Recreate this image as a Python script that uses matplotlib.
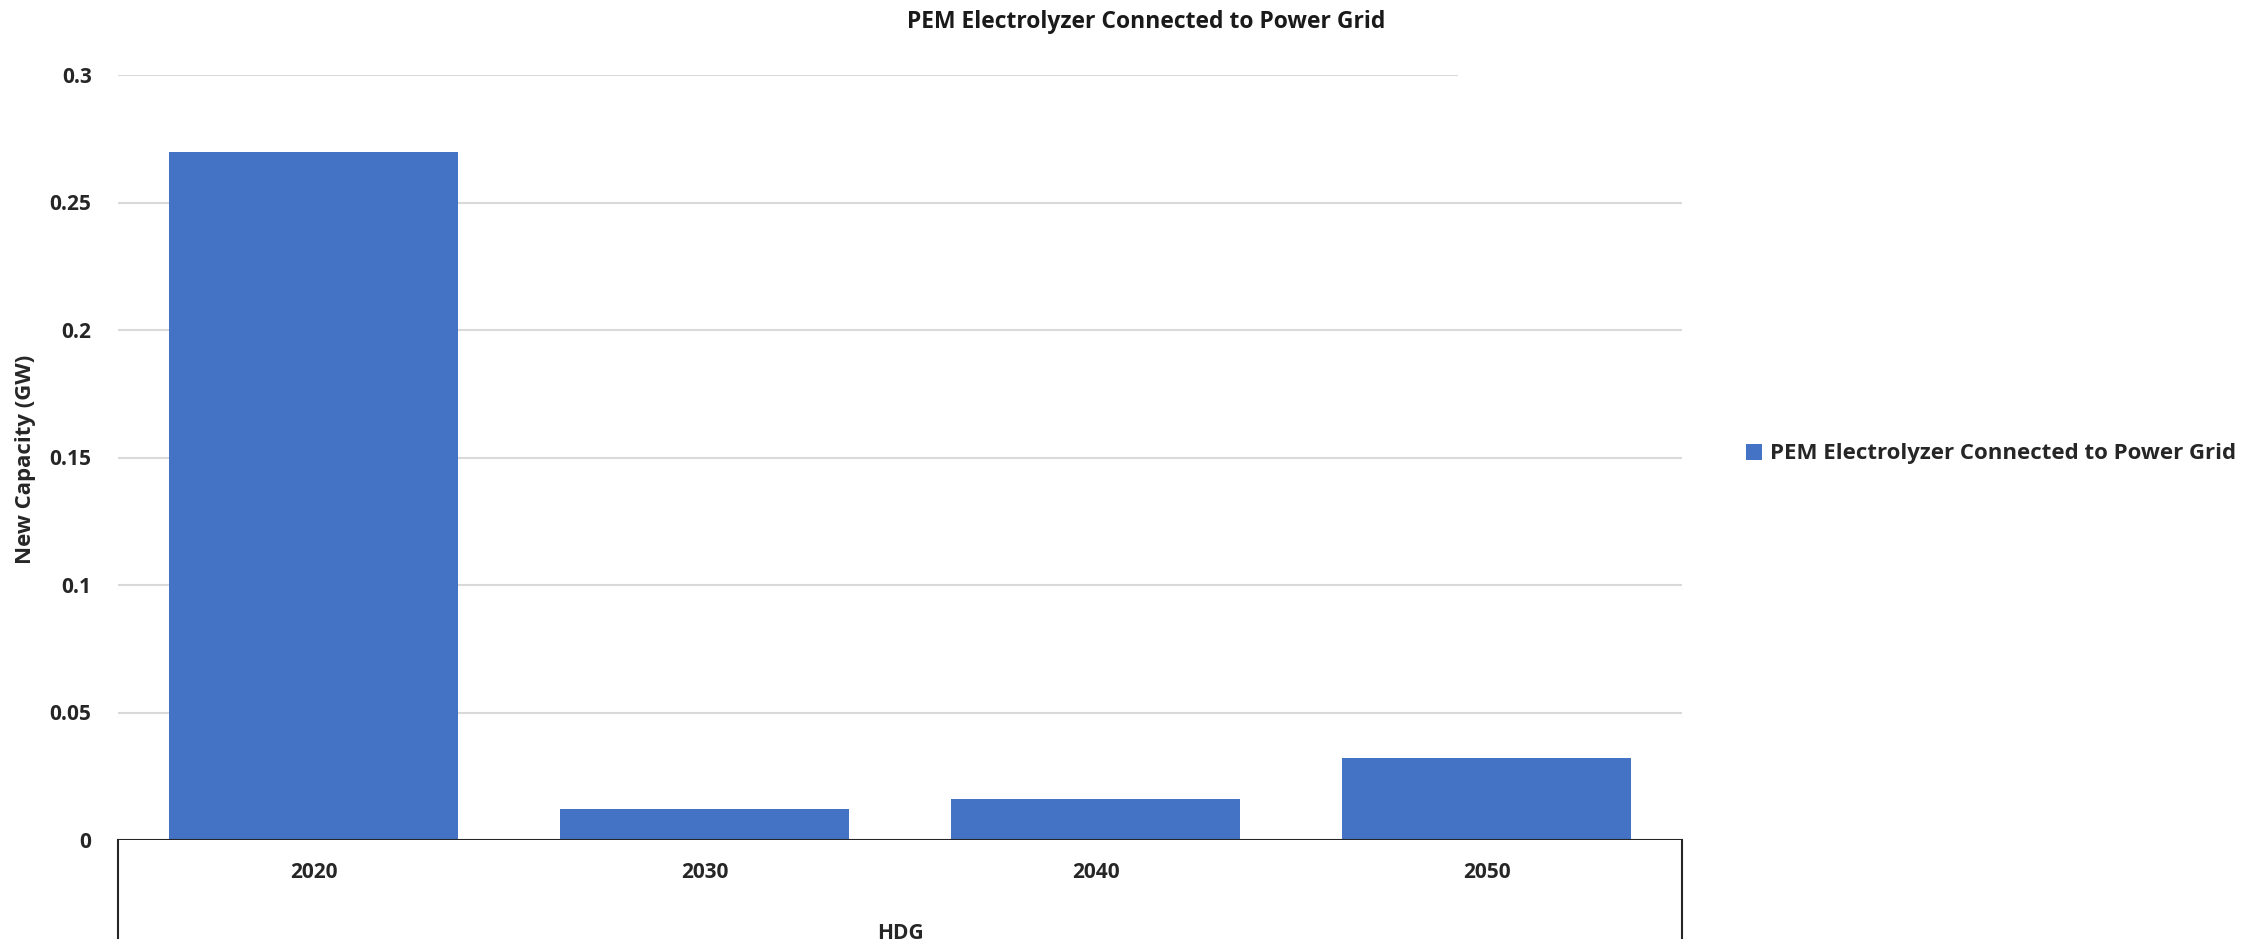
import matplotlib
matplotlib.use("Agg")
import matplotlib.pyplot as plt
from matplotlib.lines import Line2D
import numpy as np

categories = ["2020", "2030", "2040", "2050"]
values = [0.270, 0.012, 0.016, 0.032]
series_name = "PEM Electrolyzer Connected to Power Grid"
title = "PEM Electrolyzer Connected to Power Grid"
y_ticks = [0, 0.05, 0.1, 0.15, 0.2, 0.25, 0.3]
y_tick_labels = ["0", "0.05", "0.1", "0.15", "0.2", "0.25", "0.3"]
x_group_label = "HDG"
y_label = "New Capacity (GW)"

plt.rcParams['font.family'] = ['Open Sans', 'DejaVu Sans']
W, H = 2262, 940
fig = plt.figure(figsize=(W / 100, H / 100), dpi=100)
left, right, top, bottom = 118, 1682, 75, 840
ax = fig.add_axes([left / W, 1 - bottom / H, (right - left) / W, (bottom - top) / H])

bar_color = "#4472C4"
x = np.arange(len(categories))
ax.bar(x, values, width=0.74, color=bar_color, zorder=3, label=series_name)
ax.set_xlim(-0.5, len(categories) - 0.5)
ax.set_ylim(0, 0.3)

for s in ax.spines.values():
    s.set_visible(False)

# gridlines
for t in y_ticks[1:]:
    xmax = 0.856 if t == y_ticks[-1] else 1.0
    ax.axhline(t, xmin=0, xmax=xmax, color="#D9D9D9", lw=1.5, zorder=1)

# category axis line and group box
ax.axhline(0, color="#262626", lw=1.5, zorder=4)
for xv in [-0.5, len(categories) - 0.5]:
    ax.add_line(Line2D([xv, xv], [0, -0.128], transform=ax.get_xaxis_transform(),
                       color="#262626", lw=1.5, clip_on=False))

ax.set_yticks(y_ticks)
ax.set_yticklabels(y_tick_labels)
ax.set_xticks(x)
ax.set_xticklabels(categories)
ax.tick_params(axis='y', length=0, pad=19, labelsize=15, labelcolor="#262626")
ax.tick_params(axis='x', length=0, pad=16, labelsize=15, labelcolor="#262626")
for lab in ax.get_xticklabels() + ax.get_yticklabels():
    lab.set_fontweight('bold')

ax.set_xlabel(x_group_label, fontsize=15, fontweight='bold', color="#262626")
ax.xaxis.set_label_coords(0.5, -0.109)
ax.set_ylabel(y_label, fontsize=16, fontweight='bold', color="#262626")
ax.yaxis.set_label_coords(-0.0525, 0.497)

fig.text(1146 / W, 1 - 22 / H, title, ha='center', va='center', fontsize=16.5,
         fontweight='bold', color="#1a1a1a")

fig.legend(loc='center left', bbox_to_anchor=(1726 / W, 1 - 454 / H), frameon=False,
           handlelength=0.7, handleheight=0.7, handletextpad=0.4,
           prop={'size': 16, 'weight': 'bold'}, labelcolor="#262626")

fig.savefig("out.png", dpi=100, facecolor="white")
